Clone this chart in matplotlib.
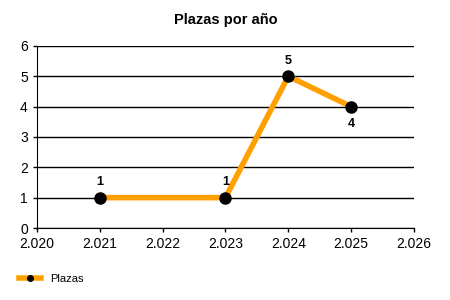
import matplotlib
matplotlib.use("Agg")
import matplotlib.pyplot as plt
from matplotlib.ticker import FuncFormatter

# data
years = [2021, 2023, 2024, 2025]
plazas = [1, 1, 5, 4]
label_pos = ["above", "above", "above", "below"]
xticks = [2020, 2021, 2022, 2023, 2024, 2025, 2026]

plt.rcParams['font.family'] = ['Liberation Sans', 'DejaVu Sans']

fig = plt.figure(figsize=(4.5, 3), dpi=100)
ax = fig.add_axes([0.082, 0.24, 0.838, 0.607])

line, = ax.plot(years, plazas, color="#FFA000", linewidth=4, marker="o",
                markersize=8, markerfacecolor="black", markeredgecolor="black",
                label="Plazas", zorder=3)

for x, y, pos in zip(years, plazas, label_pos):
    if pos == "above":
        ax.annotate(str(y), (x, y), xytext=(0, 7), textcoords="offset points",
                    ha="center", va="bottom", fontsize=9, fontweight="bold")
    else:
        ax.annotate(str(y), (x, y), xytext=(0, -8), textcoords="offset points",
                    ha="center", va="top", fontsize=9, fontweight="bold")

ax.set_xlim(2020, 2026)
ax.set_ylim(0, 6)
ax.set_xticks(xticks)
ax.set_yticks(range(0, 7))
ax.xaxis.set_major_formatter(FuncFormatter(lambda v, p: f"{int(v):,}".replace(",", ".")))
ax.tick_params(labelsize=10, length=3, width=1, colors="black")
ax.grid(axis="y", color="black", linewidth=1)
ax.set_axisbelow(True)
ax.spines["top"].set_visible(False)
ax.spines["right"].set_visible(False)

ax.set_title("Plazas por año", fontsize=10.5, fontweight="bold", pad=16)

fig.legend(handles=[line], labels=["Plazas"], loc="lower left",
           bbox_to_anchor=(0.02, 0.02), frameon=False, fontsize=8,
           handlelength=2, markerscale=0.5)

fig.savefig("out.png", dpi=100)
